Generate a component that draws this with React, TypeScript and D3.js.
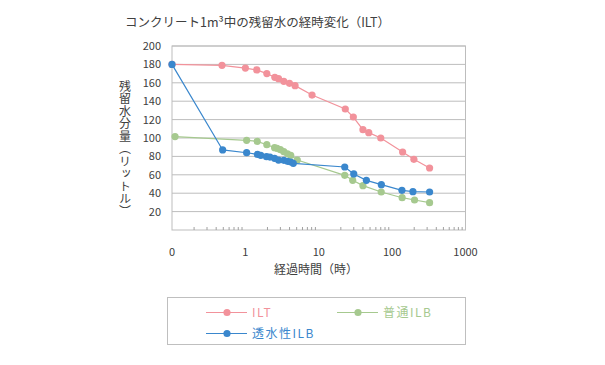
import React from "react";
import * as d3 from "d3";

const title = "コンクリート1m³中の残留水の経時変化（ILT）";
const yLabel = "残留水分量（リットル）";
const xLabel = "経過時間（時）";
const xTickValues = [0.1, 1, 10, 100, 1000];
const xTickLabels = ["0", "1", "10", "100", "1000"];
const yTicks = [20, 40, 60, 80, 100, 120, 140, 160, 180, 200];

const iltX = [0.1, 0.48, 1.0, 1.43, 1.96, 2.52, 2.83, 3.34, 3.99, 4.76, 8.1, 23, 29.6, 40, 48, 70, 139, 198, 324];
const iltY = [180, 179, 176, 174, 170, 166, 164.5, 161.6, 159.4, 156.9, 146.7, 131.5, 122.8, 109, 105.8, 100, 84.8, 76.8, 67.4];

const futsuX = [0.11, 1.04, 1.45, 1.96, 2.5, 2.7, 3.0, 3.34, 3.75, 4.15, 5.1, 22.6, 29, 40, 71, 137, 202, 324];
const futsuY = [101.5, 97.5, 96.4, 92.7, 89.5, 88.8, 87.3, 85.1, 82.9, 81.2, 76.1, 59.4, 54, 48.2, 41.3, 35.1, 32.6, 29.7];

const tousuiX = [0.1, 0.49, 1.04, 1.46, 1.62, 1.94, 2.16, 2.5, 2.83, 3.34, 3.75, 4.15, 4.5, 22.6, 30, 44.6, 71.3, 136, 192, 324];
const tousuiY = [180, 87, 84, 82.2, 81.2, 79.7, 79.3, 77.9, 76, 75.7, 74.6, 73.9, 72.5, 68.5, 60.9, 54, 49.3, 43.1, 41.7, 41.3];

const COL_ILT = "#f2929b";
const COL_FUTSU = "#a6c98f";
const COL_TOUSUI = "#3a87cd";
const FONT = "'Noto Sans CJK JP', 'Noto Sans', sans-serif";

const L = 172, R = 465.5, T = 46, B = 230;

export default function App() {
  const x = d3.scaleLog().domain([0.1, 1000]).range([L, R]);
  const y = d3.scaleLinear().domain([0, 200]).range([B, T]);
  const line = d3.line<[number, number]>().x((d) => x(d[0])).y((d) => y(d[1]));

  const series = [
    { name: "ILT", xs: iltX, ys: iltY, color: COL_ILT },
    { name: "普通ILB", xs: futsuX, ys: futsuY, color: COL_FUTSU },
    { name: "透水性ILB", xs: tousuiX, ys: tousuiY, color: COL_TOUSUI },
  ];

  const minor: number[] = [];
  [0.1, 1, 10, 100].forEach((dec) => {
    for (let k = 2; k <= 9; k++) minor.push(dec * k);
  });

  const legend = [
    { name: "ILT", color: COL_ILT, lx: 206, ly: 312.5 },
    { name: "普通ILB", color: COL_FUTSU, lx: 337, ly: 312.5 },
    { name: "透水性ILB", color: COL_TOUSUI, lx: 206, ly: 333.5 },
  ];

  return (
    <svg width={605} height={365} style={{ position: "absolute", left: 0, top: 0, background: "#fff" }} fontFamily={FONT}>
      <text x={125} y={27} fontSize={12.5} fill="#404040">{title}</text>
      {yTicks.map((t) => (
        <line key={t} x1={L} x2={R} y1={y(t)} y2={y(t)} stroke="#bdbdbd" strokeWidth={1} />
      ))}
      <rect x={L} y={T} width={R - L} height={B - T} fill="none" stroke="#bdbdbd" strokeWidth={1} />
      {minor.map((m, i) => (
        <line key={i} x1={x(m)} x2={x(m)} y1={B} y2={B - 3} stroke="#a0a0a0" strokeWidth={1} />
      ))}
      {yTicks.map((t) => (
        <text key={t} x={161} y={y(t) + 4} fontSize={11} textAnchor="end" fill="#404040">{t}</text>
      ))}
      {xTickValues.map((v, i) => (
        <text key={v} x={x(v)} y={256} fontSize={11} textAnchor="middle" fill="#404040">{xTickLabels[i]}</text>
      ))}
      <text x={316} y={274} fontSize={12} textAnchor="middle" fill="#404040">{xLabel}</text>
      <text x={125} y={80} fontSize={12} fill="#404040" style={{ writingMode: "vertical-rl" as any }} letterSpacing={0.5}>{yLabel}</text>
      {series.map((s) => {
        const pts = s.xs.map((v, i) => [v, s.ys[i]] as [number, number]);
        return (
          <g key={s.name}>
            <path d={line(pts) || ""} fill="none" stroke={s.color} strokeWidth={1.2} />
            {pts.map((p, i) => (
              <circle key={i} cx={x(p[0])} cy={y(p[1])} r={3.6} fill={s.color} />
            ))}
          </g>
        );
      })}
      <rect x={167.5} y={297.5} width={298} height={47} fill="none" stroke="#bfbfbf" strokeWidth={1} />
      {legend.map((l) => (
        <g key={l.name}>
          <line x1={l.lx} x2={l.lx + 41} y1={l.ly} y2={l.ly} stroke={l.color} strokeWidth={1.2} />
          <circle cx={l.lx + 21} cy={l.ly} r={3.6} fill={l.color} />
          <text x={l.lx + 46} y={l.ly + 4.5} fontSize={12} fill={l.color} letterSpacing={1.5}>{l.name}</text>
        </g>
      ))}
    </svg>
  );
}
